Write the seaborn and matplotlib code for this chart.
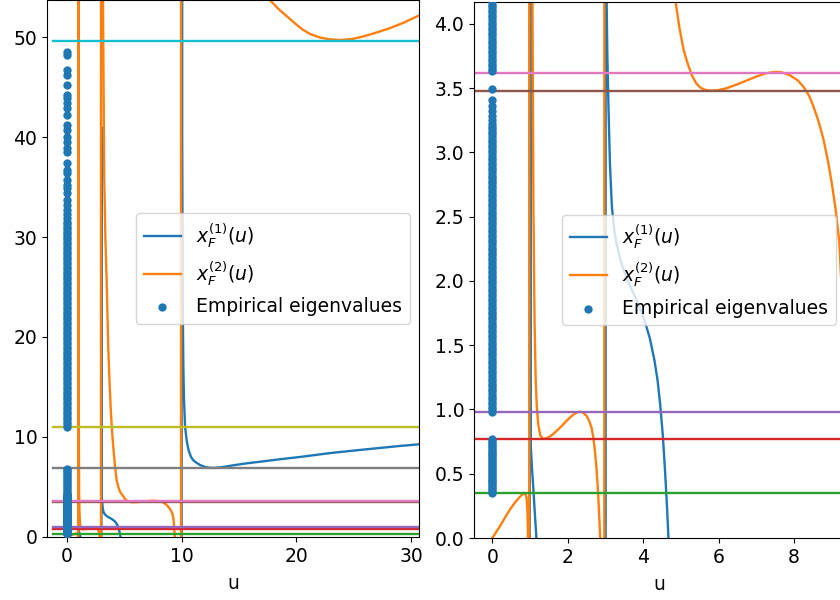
import matplotlib
matplotlib.use("Agg")
import matplotlib.pyplot as plt
import seaborn as sns

u_branch1 = [0.0, 0.5, 0.9, 0.985, 1.0, 1.02, 1.05, 1.09, 1.13, 1.17, 1.3,
             2.0, 2.9, 2.99, 3.005, 3.02, 3.03, 3.05, 3.08, 3.12, 3.17, 3.23,
             3.3, 3.4, 3.5, 3.62, 3.75, 3.9, 4.05, 4.18, 4.3, 4.38, 4.45,
             4.52, 4.58, 4.63, 4.67, 4.8, 7.0, 9.9, 9.99, 10.01, 10.05, 10.1,
             10.15, 10.2, 10.3, 10.45, 10.6, 10.8, 11.0, 11.2, 11.6, 12.0,
             12.4, 12.8, 13.5, 14.5, 15.7, 17.0, 18.6, 20.3, 23.0, 26.1, 29.0,
             31.5]
x_branch1 = [-0.3, -1.5, -8.0, -1000, 1000, 0.72, 0.55, 0.38, 0.18, 0.0, -0.6,
             -3.0, -40.0, -1000, 41.0, 7.0, 4.2, 3.75, 3.35, 2.9, 2.58, 2.4,
             2.28, 2.16, 2.07, 1.98, 1.9, 1.8, 1.68, 1.55, 1.38, 1.23, 1.04,
             0.8, 0.52, 0.25, 0.0, -0.6, -10.0, -100.0, -1000, 1000, 40.0, 23.0,
             17.0, 14.0, 11.0, 9.6, 8.7, 8.05, 7.7, 7.5, 7.2, 7.02,
             6.93, 6.9, 6.98, 7.17, 7.37, 7.55, 7.78, 8.0, 8.4, 8.77, 9.1,
             9.35]

u_branch2 = [0.0, 0.1, 0.2, 0.3, 0.4, 0.5, 0.6, 0.7, 0.78, 0.84, 0.88, 0.91,
             0.93, 0.945, 0.955, 0.97, 0.99, 1.03, 1.06, 1.09, 1.12, 1.15,
             1.18, 1.22, 1.27, 1.33, 1.4, 1.5, 1.62, 1.75, 1.9, 2.05, 2.17,
             2.27, 2.35, 2.43, 2.5, 2.57, 2.63, 2.68, 2.72, 2.76, 2.8, 2.83,
             2.86, 2.9, 2.95, 2.99, 3.08, 3.14, 3.25, 3.35, 3.46, 3.6, 3.72,
             3.84, 3.94, 4.04, 4.18, 4.33, 4.47, 4.6, 4.72, 4.85, 4.96, 5.07,
             5.18, 5.29, 5.4, 5.51, 5.65, 5.82, 6.0, 6.22, 6.5, 6.75, 7.0,
             7.25, 7.45, 7.65, 7.89, 8.1, 8.25, 8.4, 8.51, 8.65, 8.78, 8.9,
             9.0, 9.1, 9.2, 9.3, 9.41, 9.5, 9.7, 9.85, 9.9, 10.0, 10.5, 12.0,
             14.0, 16.0, 17.7, 18.4, 19.15, 19.9, 20.6, 21.3, 22.06, 22.9,
             23.8, 24.8, 25.83, 27.0, 28.2, 29.4, 30.6, 31.5]
x_branch2 = [0.0, 0.045, 0.09, 0.14, 0.19, 0.235, 0.275, 0.31, 0.335, 0.348,
             0.345, 0.31, 0.22, 0.05, -0.5, -1000, 1000, 12.0, 4.5, 2.6, 1.7,
             1.23, 1.02, 0.88, 0.8, 0.775, 0.772, 0.785, 0.81, 0.845, 0.89,
             0.935, 0.965, 0.98, 0.982, 0.97, 0.95, 0.91, 0.86, 0.78, 0.68,
             0.55, 0.38, 0.2, 0.0, -0.5, -1000, 1000, 100.0, 54.0, 36.0, 30.0,
             25.7, 19.0, 15.3, 12.3, 10.5, 9.0, 7.2, 5.7, 5.05, 4.6, 4.35,
             4.19, 3.97, 3.8, 3.69, 3.6, 3.54, 3.505, 3.485, 3.48, 3.485, 3.5,
             3.53, 3.56, 3.59, 3.615, 3.625, 3.625, 3.6, 3.56, 3.51, 3.44,
             3.36, 3.24, 3.1, 2.93, 2.76, 2.56, 2.3, 1.7, 0.0, -1.5, -8.0,
             -40.0, -1000, 1000, 150.0, 75.0, 62.0, 56.0, 53.7, 52.85, 52.1,
             51.35, 50.7, 50.25, 49.95, 49.77, 49.7, 49.78, 50.05, 50.45,
             50.9, 51.45, 52.1, 52.6]

# Support edges (horizontal reference lines)
edge_values = [0.35, 0.77, 0.98, 3.48, 3.62, 6.9, 11.0, 49.65]
edge_colors = ["tab:green", "tab:red", "tab:purple", "tab:brown",
               "tab:pink", "tab:gray", "tab:olive", "tab:cyan"]

# Empirical eigenvalues, read from the dot columns at u = 0
eig_cluster1 = [0.35, 0.365, 0.38, 0.395, 0.41, 0.425, 0.44, 0.455, 0.47,
                0.485, 0.50, 0.515, 0.53, 0.545, 0.56, 0.575, 0.59, 0.605,
                0.62, 0.635, 0.65, 0.665, 0.68, 0.695, 0.71, 0.725, 0.74,
                0.755, 0.77]
eig_cluster2 = [0.98, 1.00, 1.02, 1.04, 1.06, 1.08, 1.10, 1.12, 1.14, 1.16,
                1.18, 1.20, 1.22, 1.24, 1.26, 1.28, 1.30, 1.32, 1.34, 1.36,
                1.38, 1.40, 1.42, 1.44, 1.46, 1.48, 1.50, 1.52, 1.54, 1.56,
                1.58, 1.60, 1.62, 1.64, 1.66, 1.68, 1.70, 1.72, 1.74, 1.76,
                1.78, 1.80, 1.82, 1.84, 1.86, 1.88, 1.90, 1.92, 1.94, 1.96,
                1.98, 2.00, 2.02, 2.04, 2.06, 2.08, 2.10, 2.12, 2.14, 2.16,
                2.18, 2.20, 2.22, 2.24, 2.26, 2.28, 2.30, 2.32, 2.34, 2.36,
                2.38, 2.40, 2.42, 2.44, 2.46, 2.48, 2.50, 2.52, 2.54, 2.56,
                2.58, 2.60, 2.62, 2.64, 2.66, 2.68, 2.70, 2.72, 2.74, 2.76,
                2.78, 2.80, 2.82, 2.84, 2.86, 2.88, 2.90, 2.92, 2.94, 2.96,
                2.98, 3.00, 3.02, 3.04, 3.06, 3.08, 3.10, 3.12, 3.14, 3.16,
                3.18, 3.20, 3.22, 3.25, 3.28, 3.32, 3.36, 3.41, 3.49]
eig_cluster3 = [3.63, 3.65, 3.67, 3.69, 3.71, 3.73, 3.75, 3.77, 3.79, 3.81,
                3.83, 3.85, 3.87, 3.89, 3.91, 3.93, 3.95, 3.97, 3.99, 4.01,
                4.03, 4.05, 4.07, 4.09, 4.11, 4.13, 4.15, 4.17, 4.19, 4.3,
                4.5, 4.7, 4.9, 5.1, 5.3, 5.5, 5.7, 5.9, 6.1, 6.3, 6.5, 6.7,
                6.85]
eig_cluster4 = [11.05, 11.3, 11.55, 11.8, 12.05, 12.3, 12.55, 12.8, 13.05,
                13.3, 13.55, 13.8, 14.05, 14.3, 14.55, 14.8, 15.05, 15.3,
                15.55, 15.8, 16.05, 16.3, 16.55, 16.8, 17.05, 17.3, 17.55,
                17.8, 18.05, 18.3, 18.55, 18.8, 19.05, 19.3, 19.55, 19.8,
                20.05, 20.3, 20.55, 20.8, 21.05, 21.3, 21.55, 21.8, 22.05,
                22.3, 22.55, 22.8, 23.05, 23.3, 23.55, 23.8, 24.05, 24.3,
                24.55, 24.8, 25.05, 25.3, 25.55, 25.8, 26.05, 26.3, 26.55,
                26.8, 27.05, 27.3, 27.55, 27.8, 28.05, 28.3, 28.55, 28.8,
                29.05, 29.3, 29.55, 29.8, 30.05, 30.3, 30.55, 30.8, 31.05,
                31.3, 31.55, 31.9, 32.3, 32.7, 33.2, 33.7, 34.4, 34.9, 35.2,
                35.7, 36.4, 36.7, 37.4, 38.5, 38.9, 39.5, 40.0, 40.7, 41.2,
                42.2, 42.9, 43.4, 43.9, 44.2, 45.2, 46.2, 46.7, 48.2, 48.55]


def draw_panel(ax, xlim, ylim):
    """
    Draws both branches, the edge lines and the eigenvalue column on one axes.
    """
    # The two branches of x_F
    sns.lineplot(x=u_branch1, y=x_branch1, sort=False, estimator=None,
                 color="tab:blue", lw=1.7, label="$x_F^{(1)}(u)$", ax=ax)
    sns.lineplot(x=u_branch2, y=x_branch2, sort=False, estimator=None,
                 color="tab:orange", lw=1.7, label="$x_F^{(2)}(u)$", ax=ax)

    # Horizontal lines at the support edges
    for value, color in zip(edge_values, edge_colors):
        ax.plot([-1.2, 40], [value, value], color=color, lw=1.7)

    # Empirical eigenvalues at u = 0
    eigs = eig_cluster1 + eig_cluster2 + eig_cluster3 + eig_cluster4
    sns.scatterplot(x=[0] * len(eigs), y=eigs, color="tab:blue", s=36,
                    linewidth=0, zorder=3, label="Empirical eigenvalues",
                    ax=ax)

    ax.set_xlim(*xlim)
    ax.set_ylim(*ylim)
    ax.set_xlabel("u", labelpad=6)
    ax.set_ylabel("")
    ax.legend(loc="center right")


def main():
    plt.rcParams["font.size"] = 13.5

    fig = plt.figure(figsize=(8.4, 6), dpi=100)

    # Left panel: wide view, its top edge sits on the figure edge
    ax_left = fig.add_axes([47 / 840, 63 / 600, 372 / 840, 537 / 600])
    draw_panel(ax_left, (-1.74, 30.7), (0, 53.7))

    # Right panel: zoom near the origin, its right part runs past the figure
    ax_right = fig.add_axes([474 / 840, 62 / 600, 371 / 840, 536 / 600])
    draw_panel(ax_right, (-0.485, 9.35), (0, 4.17))

    fig.savefig("out.png", dpi=100)


if __name__ == "__main__":
    main()
